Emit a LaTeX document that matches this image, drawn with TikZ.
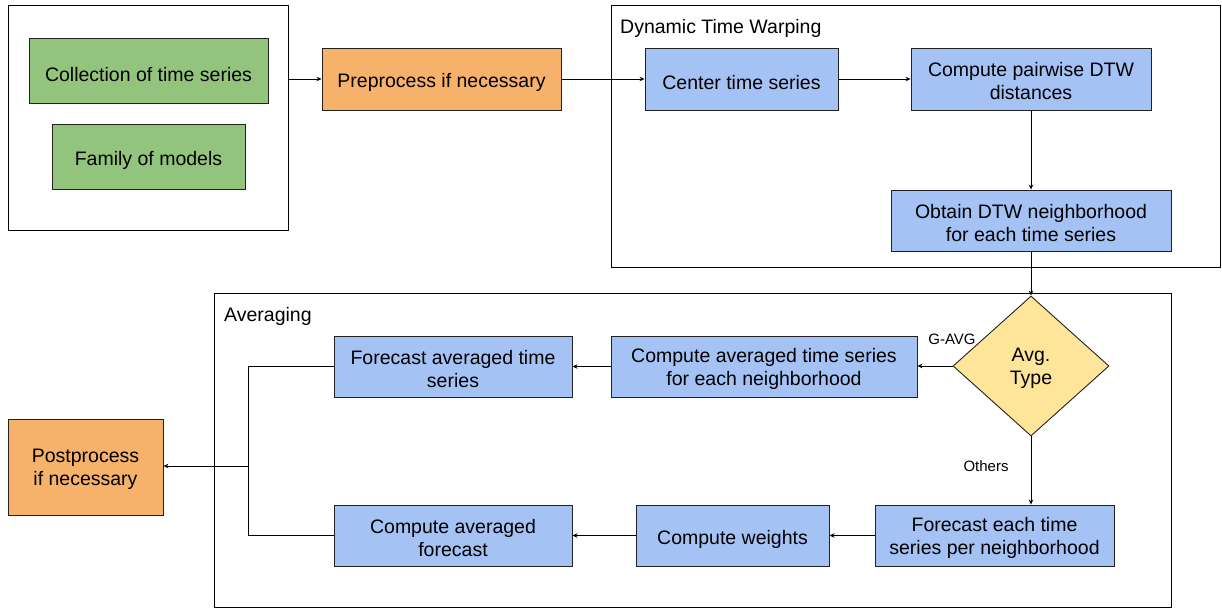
\documentclass[tikz,border=0pt]{standalone}
\usepackage{fontspec}
\setmainfont{Liberation Sans}
\usetikzlibrary{shapes.geometric,arrows.meta}
\definecolor{cgreen}{HTML}{93C47D}
\definecolor{corange}{HTML}{F6B26B}
\definecolor{cblue}{HTML}{A4C2F4}
\definecolor{cyellow}{HTML}{FFE599}
\definecolor{cedge}{HTML}{222222}
\newcommand{\tstrut}{\rule{0pt}{21.5pt}}
\newcommand{\mstrut}{\rule{0pt}{18.5pt}}
\tikzset{
  box/.style={draw=cedge, line width=0.9pt, align=center, inner sep=2pt,
    font=\fontsize{19.5}{23}\selectfont},
  gbox/.style={box, fill=cgreen},
  obox/.style={box, fill=corange},
  bbox/.style={box, fill=cblue},
  frame/.style={draw=black, line width=0.9pt},
  conn/.style={draw=black, line width=0.8pt, -{Stealth[length=5pt,width=4.5pt]}},
  plain/.style={draw=black, line width=0.8pt},
  title/.style={font=\fontsize{19.5}{23}\selectfont, anchor=west, inner sep=0pt},
  small/.style={font=\fontsize{15}{18}\selectfont, inner sep=0pt},
}
\begin{document}
\begin{tikzpicture}[x=1pt,y=-1pt]
\useasboundingbox (0,0) rectangle (1222,609);
% outer input frame
\node[frame, minimum width=280pt, minimum height=225pt, inner sep=0pt] (inbox) at (148,117.5) {};
\node[gbox, minimum width=239pt, minimum height=65pt] (coll) at (148.5,70.5) {\tstrut Collection of time series};
\node[gbox, minimum width=193pt, minimum height=65pt] (fam) at (148.5,156.5) {\tstrut Family of models};
\node[obox, minimum width=239pt, minimum height=62pt] (pre) at (441.5,79) {\tstrut Preprocess if necessary};
% DTW frame
\node[frame, minimum width=609pt, minimum height=262pt, inner sep=0pt] (dtw) at (915.5,136) {};
\node[title] (dtwt) at (620,28) {Dynamic Time Warping};
\node[bbox, minimum width=193pt, minimum height=62pt] (cen) at (741.5,79) {\tstrut Center time series};
\node[bbox, minimum width=240pt, minimum height=62pt] (pair) at (1031,79) {\mstrut Compute pairwise DTW\\distances};
\node[bbox, minimum width=280pt, minimum height=61pt] (obt) at (1031,220.5) {\mstrut Obtain DTW neighborhood\\for each time series};
% Averaging frame
\node[frame, minimum width=957pt, minimum height=314pt, inner sep=0pt] (avg) at (692.5,450) {};
\node[title] (avgt) at (224,316) {Averaging};
\node[box, diamond, fill=cyellow, minimum width=156pt, minimum height=140pt, inner sep=0pt] (dia) at (1031,366) {\mstrut Avg.\\Type};
\node[bbox, minimum width=306pt, minimum height=61pt] (cats) at (764,366.5) {\mstrut Compute averaged time series\\for each neighborhood};
\node[bbox, minimum width=238pt, minimum height=61pt] (fat) at (453,366.5) {\mstrut Forecast averaged time\\series};
\node[obox, minimum width=155pt, minimum height=96pt] (post) at (85.5,467) {\mstrut Postprocess\\if necessary};
\node[bbox, minimum width=238pt, minimum height=61pt] (caf) at (453,535.5) {\mstrut Compute averaged\\forecast};
\node[bbox, minimum width=193pt, minimum height=61pt] (cw) at (732.5,535.5) {\tstrut Compute weights};
\node[bbox, minimum width=239pt, minimum height=61pt] (fe) at (994.5,535.5) {\mstrut Forecast each time\\series per neighborhood};
\coordinate (j) at (248,466);
% connectors
\draw[conn] (inbox.east |- pre.west) -- (pre.west);
\draw[conn] (pre.east) -- (cen.west);
\draw[conn] (cen.east) -- (pair.west);
\draw[conn] (pair.south) -- (obt.north);
\draw[conn] (obt.south) -- (dia.north);
\draw[conn] (dia.west) -- (dia.west -| cats.east);
\node[small] (gavg) at (952,339) {G-AVG};
\draw[conn] (cats.west) -- (fat.east);
\draw[conn] (dia.south) -- (dia.south |- fe.north);
\node[small] (oth) at (986,466) {Others};
\draw[conn] (fe.west) -- (cw.east);
\draw[conn] (cw.west) -- (caf.east);
\draw[plain] (fat.west) -| (j |- caf.west) -- (caf.west);
\draw[conn] (j) -- (j -| post.east);
\end{tikzpicture}
\end{document}
